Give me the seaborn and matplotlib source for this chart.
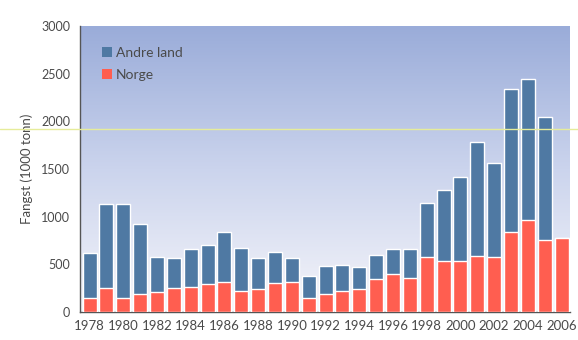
import numpy as np
import pandas as pd
import seaborn as sns
import matplotlib
matplotlib.use("Agg")
import matplotlib.pyplot as plt
from matplotlib.patches import Patch
from matplotlib.lines import Line2D
from matplotlib.colors import LinearSegmentedColormap

years = list(range(1978, 2007))
totals = [616, 1133, 1133, 920, 580, 570, 657, 706, 836, 671, 570, 633, 570,
          378, 483, 493, 472, 598, 664, 664, 1140, 1280, 1420, 1780, 1566,
          2336, 2448, 2049, 780]
norge = [150, 248, 150, 189, 213, 248, 266, 290, 318, 220, 241, 301, 318,
         143, 185, 220, 238, 346, 399, 360, 573, 535, 535, 587, 573,
         836, 965, 755, 780]
andre = [t - n for t, n in zip(totals, norge)]
series_names = ["Andre land", "Norge"]
tick_labels = [str(y) if (y - 1978) % 2 == 0 else "" for y in years]

df = pd.DataFrame({"year": [str(y) for y in years], "total": totals,
                   "norge": norge, "andre": andre})

sns.set_style("white")
plt.rcParams["font.family"] = ["Lato", "DejaVu Sans"]

blue = "#4f79a3"
red = "#ff5e50"
txt = "#4a4a4a"

fig = plt.figure(figsize=(5.78, 3.40), dpi=100)
ax = fig.add_axes([80 / 578, 28 / 340, 490 / 578, 286 / 340])

# gradient background
cmap = LinearSegmentedColormap.from_list("bg", ["#f5f5fa", "#cbd4ed", "#9aacd9"])
grad = np.linspace(0, 1, 256).reshape(-1, 1)
ax.imshow(grad, aspect="auto", cmap=cmap, origin="lower",
          extent=[-0.57, 28.5, 0, 3000], zorder=0)

sns.barplot(data=df, x="year", y="total", color=blue, width=0.83,
            saturation=1, ax=ax, zorder=2)
sns.barplot(data=df, x="year", y="norge", color=red, width=0.83,
            saturation=1, ax=ax, zorder=3)

ax.set_xlim(-0.57, 28.5)
ax.set_ylim(0, 3000)
ax.set_yticks(range(0, 3001, 500))
ax.set_yticklabels([str(v) for v in range(0, 3001, 500)], color=txt, fontsize=9)
ax.set_xticks(range(len(years)))
ax.set_xticklabels(tick_labels, color=txt, fontsize=9.5)
ax.tick_params(axis="x", which="major", length=0, pad=6)
ax.set_xticks(np.arange(-0.5, 28.6, 1.0), minor=True)
ax.tick_params(axis="x", which="minor", length=4, width=1, color="#555555",
               direction="out")
ax.tick_params(axis="y", which="major", length=4, width=1, color="#555555",
               direction="out", pad=3)
ax.set_xlabel("")
ax.set_ylabel("Fangst (1000 tonn)", color=txt, fontsize=9.5, labelpad=6)
for s in ["top", "right"]:
    ax.spines[s].set_visible(False)
for s in ["left", "bottom"]:
    ax.spines[s].set_color("#555555")
    ax.spines[s].set_linewidth(1)

handles = [Patch(facecolor=blue, edgecolor="none"),
           Patch(facecolor=red, edgecolor="none")]
leg = ax.legend(handles, series_names, loc="upper left", frameon=False,
                bbox_to_anchor=(0.02, 0.97), handlelength=0.7, handleheight=0.7,
                handletextpad=0.3, labelspacing=0.7, fontsize=10)
for t in leg.get_texts():
    t.set_color(txt)

# faint scan line across the figure
fig.add_artist(Line2D([0, 1], [1 - 129 / 340, 1 - 129 / 340],
                      transform=fig.transFigure, color="#e6ec9a", lw=1, zorder=10))

fig.savefig("out.png", dpi=100, facecolor="white")
